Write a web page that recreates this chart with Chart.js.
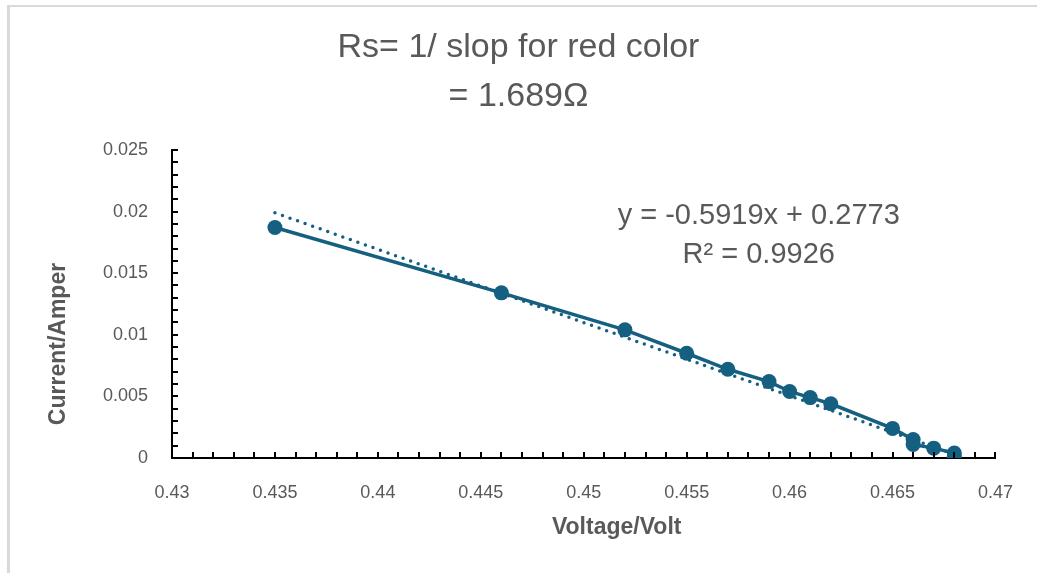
<!DOCTYPE html>
<html>
<head>
<meta charset="utf-8">
<script src="https://cdn.jsdelivr.net/npm/chart.js@4.4.1/dist/chart.umd.min.js"></script>
<style>
  html, body { margin: 0; padding: 0; background: #fff; }
  #wrap { position: relative; width: 1037px; height: 573px; overflow: hidden; }
  #frame { position: absolute; left: 7px; top: 5px; width: 1100px; height: 700px;
           border-left: 3px solid #d9d9d9; border-top: 2px solid #d9d9d9; }
  canvas { position: absolute; left: 0; top: 0; }
</style>
</head>
<body>
<div id="wrap">
  <div id="frame"></div>
  <canvas id="ivChart" width="1037" height="573"></canvas>
</div>
<script>
// measured points (voltage in V, current in A)
const voltage = [0.435, 0.446, 0.452, 0.455, 0.457, 0.459, 0.460, 0.461, 0.462, 0.465, 0.466, 0.466, 0.467, 0.468, 0.468];
const current = [0.0187, 0.0134, 0.0104, 0.0085, 0.0072, 0.0062, 0.0054, 0.0049, 0.0044, 0.0024, 0.0015, 0.0011, 0.0008, 0.0004, 0.0001];

// linear trendline ends as drawn
const trendX = [0.435, 0.468];
const trendY = [0.0199, 0.0003];

const titleLines = ['Rs= 1/ slop for red color', '= 1.689\u03A9'];
const equationLines = ['y = -0.5919x + 0.2773', 'R\u00B2 = 0.9926'];
const xTitle = 'Voltage/Volt';
const yTitle = 'Current/Amper';

const xMin = 0.43, xMax = 0.47, xStep = 0.005;
const yMin = 0, yMax = 0.025, yStep = 0.005;
const minorStep = 0.001;

const lineColor = '#155f81';
const textGrey = '#595959';
const fontFamily = '"Liberation Sans", Arial, sans-serif';

function fmtTick(v) {
  return String(Number(v.toFixed(3)));
}

// inner tick marks, axis titles and the trendline label
const decorPlugin = {
  id: 'decor',
  afterDraw(chart) {
    const ctx = chart.ctx;
    const xs = chart.scales.x;
    const ys = chart.scales.y;
    const area = chart.chartArea;

    ctx.save();
    ctx.strokeStyle = '#000';
    ctx.lineWidth = 2;
    const nx = Math.round((xMax - xMin) / minorStep);
    for (let i = 1; i <= nx; i++) {
      const px = Math.round(xs.getPixelForValue(xMin + i * minorStep));
      ctx.beginPath();
      ctx.moveTo(px, area.bottom);
      ctx.lineTo(px, area.bottom - 6);
      ctx.stroke();
    }
    const ny = Math.round((yMax - yMin) / minorStep);
    for (let i = 1; i <= ny; i++) {
      const py = Math.round(ys.getPixelForValue(yMin + i * minorStep));
      ctx.beginPath();
      ctx.moveTo(area.left, py);
      ctx.lineTo(area.left + 6, py);
      ctx.stroke();
    }

    ctx.fillStyle = textGrey;
    ctx.textAlign = 'center';
    ctx.textBaseline = 'middle';

    ctx.font = 'bold 23px ' + fontFamily;
    ctx.fillText(xTitle, area.left + (area.right - area.left) * 0.54, area.bottom + 70);

    ctx.save();
    ctx.translate(area.left - 113, area.top + (area.bottom - area.top) * 0.63);
    ctx.rotate(-Math.PI / 2);
    ctx.fillText(yTitle, 0, 0);
    ctx.restore();

    ctx.font = '29px ' + fontFamily;
    const ex = xs.getPixelForValue(0.4585);
    ctx.fillText(equationLines[0], ex, ys.getPixelForValue(0.0196));
    ctx.fillText(equationLines[1], ex, ys.getPixelForValue(0.0165));
    ctx.restore();
  }
};

new Chart(document.getElementById('ivChart'), {
  type: 'line',
  data: {
    datasets: [
      {
        label: 'Current',
        data: voltage.map((v, i) => ({ x: v, y: current[i] })),
        borderColor: lineColor,
        backgroundColor: lineColor,
        borderWidth: 3.5,
        pointRadius: 7.5,
        pointHoverRadius: 7.5,
        pointBorderWidth: 0,
        tension: 0,
        fill: false
      },
      {
        label: 'Linear',
        data: trendX.map((v, i) => ({ x: v, y: trendY[i] })),
        borderColor: lineColor,
        borderWidth: 3.5,
        borderDash: [0, 8],
        borderCapStyle: 'round',
        pointRadius: 0,
        tension: 0,
        fill: false
      }
    ]
  },
  options: {
    responsive: false,
    animation: false,
    layout: { padding: { left: 40, right: 40, top: 0, bottom: 0 } },
    plugins: {
      legend: { display: false },
      tooltip: { enabled: false },
      title: {
        display: true,
        text: titleLines,
        color: textGrey,
        font: { family: fontFamily, size: 34, weight: 'normal', lineHeight: 1.44 },
        padding: { top: 23.5, bottom: 28.5 }
      }
    },
    scales: {
      x: {
        type: 'linear',
        min: xMin,
        max: xMax,
        afterFit(scale) { scale.height = 115; },
        ticks: {
          stepSize: xStep,
          color: textGrey,
          padding: 24,
          maxRotation: 0,
          font: { family: fontFamily, size: 18 },
          callback: v => fmtTick(v)
        },
        grid: { display: false, drawTicks: false },
        border: { display: true, color: '#000', width: 2 }
      },
      y: {
        type: 'linear',
        min: yMin,
        max: yMax,
        afterFit(scale) { scale.width = 132; },
        ticks: {
          stepSize: yStep,
          color: textGrey,
          padding: 24,
          font: { family: fontFamily, size: 18 },
          callback: v => fmtTick(v)
        },
        grid: { display: false, drawTicks: false },
        border: { display: true, color: '#000', width: 2 }
      }
    }
  },
  plugins: [decorPlugin]
});
</script>
</body>
</html>
